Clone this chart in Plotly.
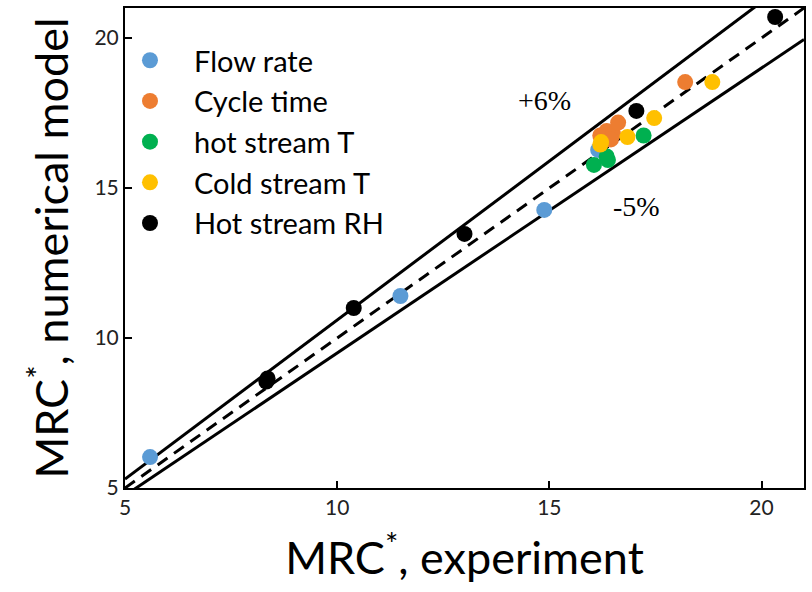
import plotly.graph_objects as go
import numpy as np

# Data
flow_x = [5.59, 11.49, 14.88, 16.15]
flow_y = [6.03, 11.40, 14.27, 16.27]

cycle_x = [16.20, 16.35, 16.50, 16.62, 16.45, 18.20]
cycle_y = [16.75, 16.90, 16.80, 17.18, 16.62, 18.53]

hotT_x = [16.05, 16.35, 16.38, 17.22]
hotT_y = [15.77, 16.05, 15.93, 16.75]

coldT_x = [16.22, 16.20, 16.84, 17.47, 18.84]
coldT_y = [16.53, 16.45, 16.70, 17.33, 18.53]

rh_x = [8.33, 8.36, 10.39, 13.00, 17.05, 20.32]
rh_y = [8.55, 8.65, 11.00, 13.47, 17.57, 20.70]

line_x = [5, 21]
upper_factor = 1.06
lower_factor = 0.95

series = [
    ("Flow rate", flow_x, flow_y, "#5B9BD5"),
    ("Cycle time", cycle_x, cycle_y, "#ED7D31"),
    ("hot stream T", hotT_x, hotT_y, "#00B050"),
    ("Cold stream T", coldT_x, coldT_y, "#FFC000"),
    ("Hot stream RH", rh_x, rh_y, "#000000"),
]

fig = go.Figure()

lx = np.array(line_x, dtype=float)
fig.add_trace(go.Scatter(x=lx, y=lx * upper_factor, mode="lines",
                         line=dict(color="black", width=3), showlegend=False, hoverinfo="skip"))
fig.add_trace(go.Scatter(x=lx, y=lx * lower_factor, mode="lines",
                         line=dict(color="black", width=3), showlegend=False, hoverinfo="skip"))
fig.add_trace(go.Scatter(x=lx, y=lx, mode="lines",
                         line=dict(color="black", width=3, dash="12px,8px"), showlegend=False, hoverinfo="skip"))

for name, xs, ys, col in series:
    fig.add_trace(go.Scatter(x=xs, y=ys, mode="markers", name=name,
                             marker=dict(color=col, size=16, line=dict(width=0))))

tickfont = dict(family="Lato, Open Sans, sans-serif", size=21, color="#222")
axis_common = dict(
    showgrid=False, zeroline=False, showline=True, linecolor="black", linewidth=2,
    mirror=True, ticks="inside", ticklen=7, tickwidth=2, tickcolor="black",
    tickfont=tickfont, range=[5, 21], tickvals=[5, 10, 15, 20],
)

fig.update_layout(
    width=812, height=592,
    margin=dict(l=125, r=6, t=8, b=104),
    paper_bgcolor="white", plot_bgcolor="white",
    xaxis=dict(**axis_common,
               title=dict(text="MRC<sup>*</sup>, experiment", standoff=24,
                          font=dict(family="Lato, Open Sans, sans-serif", size=45, color="black"))),
    yaxis=dict(**axis_common,
               title=dict(text="MRC<sup>*</sup>, numerical model", standoff=12,
                          font=dict(family="Lato, Open Sans, sans-serif", size=45, color="black"))),
    legend=dict(x=-0.028, y=0.944, xanchor="left", yanchor="top",
                font=dict(family="Lato, Open Sans, sans-serif", size=29, color="black"),
                bgcolor="rgba(0,0,0,0)", itemwidth=78, tracegroupgap=0),
    annotations=[
        dict(x=14.88, y=17.93, xref="x", yref="y", text="+6%", showarrow=False,
             font=dict(family="Liberation Serif, Times New Roman, serif", size=28, color="black")),
        dict(x=17.05, y=14.4, xref="x", yref="y", text="-5%", showarrow=False,
             font=dict(family="Liberation Serif, Times New Roman, serif", size=28, color="black")),
    ],
)

fig.write_html("out.html")
